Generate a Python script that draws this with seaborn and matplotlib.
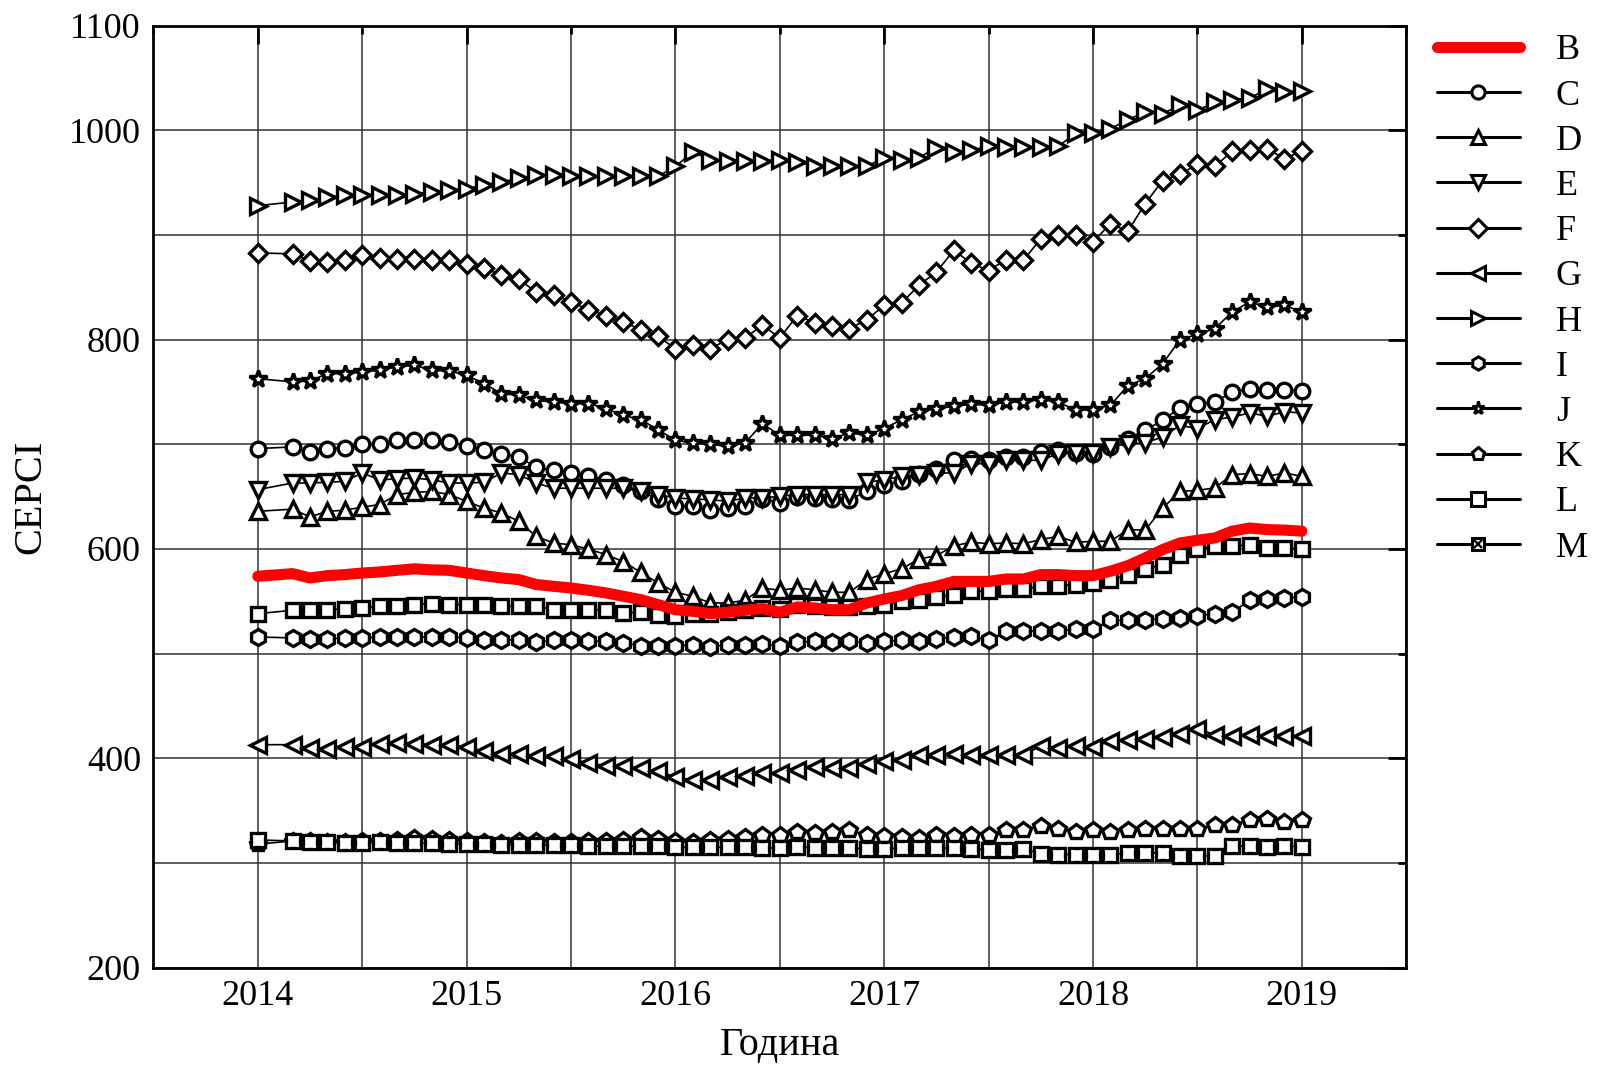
import pandas as pd
import seaborn as sns
import matplotlib.pyplot as plt
from matplotlib.lines import Line2D
from matplotlib.legend_handler import HandlerTuple
from matplotlib.ticker import MultipleLocator

sns.set_style("white")
plt.rcParams['font.family'] = ['Liberation Serif', 'DejaVu Serif']
plt.rcParams['text.color'] = 'black'
plt.rcParams['axes.labelcolor'] = 'black'
plt.rcParams['xtick.color'] = 'black'
plt.rcParams['ytick.color'] = 'black'

# monthly points, Feb 2014 missing
dates = pd.to_datetime(["2014-01-01"]).append(pd.date_range("2014-03-01", "2019-01-01", freq="MS"))
years = (dates.year + (dates.month - 1) / 12).to_numpy()

B = [573.9, 576.4, 572.3, 574.5, 575.5, 577, 578, 579.6, 581, 580, 579.6,
     577, 574.5, 572.3, 570.7, 566, 564.3, 562.7, 560.5, 558, 554.8, 551.6, 546.8,
     542, 540.4, 538.2, 539.5, 541.4, 543, 539.5, 544.6, 543.6, 542, 542, 548.4,
     552.2, 555.4, 561, 564.3, 569, 569, 569, 571.3, 571.3, 575.5, 575.5, 574.5,
     574.5, 578.7, 584, 591.4, 599.4, 605.7, 608.3, 610.5, 617, 620, 618.5, 618,
     617]
C = [695.9, 697.5, 692.7, 695.9, 696.8, 700, 700, 703.8, 703.8, 703.8, 702.2,
     698, 694.3, 691, 688, 678, 675, 673, 670, 666, 661.5, 655, 647.8,
     641.4, 640.8, 637, 639, 641.4, 647.8, 644, 650, 648.7, 647.8, 647, 655,
     661.5, 664.6, 672, 676.6, 684.7, 686, 684.7, 688, 688, 692.7, 694.3, 691.7,
     691, 697.5, 705.4, 713.4, 723, 735, 738.9, 740.4, 750, 753, 751.5, 752,
     751]
D = [636, 638, 630.6, 636, 637, 640, 642.4, 652, 654, 655, 652,
     645.5, 639, 634.4, 626.4, 612, 605.7, 604, 600, 594.6, 588, 577.7, 567.5,
     558.6, 554.8, 548.4, 548.4, 551, 562.7, 560.5, 562.7, 561, 558.6, 558.6, 570.7,
     576.4, 581, 590.4, 593.6, 603, 606.4, 605, 605.7, 605, 609, 612, 606.4,
     607.3, 607.3, 618.5, 618, 639, 655, 656, 658.3, 671, 672, 669.4, 672.6,
     669.4]
E = [656.7, 663, 663, 663.7, 664.6, 672.6, 666, 667, 667.8, 666, 663,
     663, 663.7, 672.6, 671, 663, 658, 658, 658, 658, 658, 655, 652,
     648.7, 647.8, 647, 645.5, 648.7, 648.7, 650.3, 652, 652, 652, 652, 663.7,
     666, 669.4, 671, 672.6, 672.6, 681.5, 681.5, 684.7, 684.7, 684.7, 691, 691.7,
     691.7, 697.5, 700.6, 701.3, 707, 718, 715, 723.6, 726, 730, 726.8, 731,
     730]
F = [882.8, 882, 875, 874, 876, 880.6, 877.6, 877, 877, 876, 876,
     872, 868, 862, 857.6, 845.5, 843, 836, 828.7, 823, 817, 809.6, 803,
     791.4, 794.6, 791.4, 800, 801.6, 813.7, 801.6, 823, 816, 813, 810.5, 819,
     832.8, 835, 852, 864.6, 885.4, 873, 866, 876.4, 875.8, 896.5, 899.7, 899.7,
     893.3, 910.8, 903.5, 930, 952, 958, 967.5, 965.6, 980, 981.5, 982.5, 973,
     980]
G = [413, 413, 409.9, 408.9, 410.8, 410.8, 414, 414.6, 414, 413, 413,
     410.8, 406.7, 404.5, 404.5, 402, 402, 399.4, 395.5, 393, 392.4, 390.8, 387.6,
     382.2, 379, 379, 382.2, 383.4, 386, 386, 389.2, 391.7, 390.8, 390.8, 394.9,
     397.1, 398.7, 403.5, 403.5, 404.5, 403.5, 403.5, 403.5, 403.5, 411.5, 409.9, 411.5,
     410.8, 416.2, 417.2, 418.5, 420.4, 423.6, 428, 422.6, 421.7, 422.6, 421, 421,
     421]
H = [928, 931.5, 933, 936, 938, 938, 938.5, 938.5, 939.5, 941, 942.7,
     944, 948, 950.6, 954, 957, 957, 956, 956, 956, 956, 956, 956,
     965.6, 979, 972, 971, 971, 971, 971.3, 970, 965.6, 965.6, 965.6, 965.6,
     974, 972, 974, 983.4, 979, 981, 984.7, 984, 984, 984, 984.7, 997,
     997, 1001.6, 1010, 1017.5, 1016, 1024, 1019, 1027, 1029, 1031, 1039, 1036.6,
     1037.6]
I = [515.9, 515, 514.3, 514, 515, 515, 515.9, 515.9, 515.9, 515.9, 515.9,
     515, 512.7, 512.7, 513.4, 510.8, 512.7, 512.7, 511.8, 511.8, 510.2, 507.6, 507.6,
     507, 508.6, 506.4, 508.6, 508.6, 509.6, 507, 510.8, 511.8, 510.8, 511.8, 510.2,
     511.8, 512.7, 511.8, 514, 515.9, 516.6, 512.7, 521.3, 521.3, 522, 521.3, 523.6,
     523.6, 531.8, 531.8, 532.5, 533, 534, 536.3, 538.2, 539.5, 551, 552.2, 553.2,
     554]
J = [762.7, 759.6, 760.5, 767.5, 767.5, 769, 770.7, 774, 775.5, 770.7, 770,
     766, 758, 748.4, 746.8, 742, 740.4, 738.9, 738.9, 734, 727.7, 723.6, 714,
     703.8, 701.3, 700, 698, 701.3, 719.7, 708.6, 708.6, 708.6, 705.4, 710.8, 708.6,
     715, 723.6, 731, 734, 736.3, 738.2, 737.3, 740.4, 740.4, 742.7, 740.4, 732.5,
     733, 737.3, 756, 762.7, 777, 800, 805, 810.5, 826.4, 836, 831, 832.8,
     826.4]
K = [318, 321, 321, 320, 320, 321, 321, 322, 324, 323, 322,
     321, 320, 319, 321, 321, 320, 320, 321, 321, 322, 325, 323,
     321, 320, 322, 323, 325, 327, 327, 330, 328.7, 330, 331, 327,
     325.5, 325, 324, 327, 325.5, 327, 327, 331, 331.8, 335, 332.5, 330,
     331, 330, 331.8, 332.5, 332.5, 332.5, 332.5, 336.6, 336.6, 341.4, 342, 338.9,
     340.8]
L = [538.2, 541.4, 542, 542, 542.7, 543.6, 545.2, 545.9, 546.8, 547.8, 546.8,
     546.8, 546.8, 545.2, 545.2, 545.2, 542, 541.4, 541.4, 542, 538.9, 539.5, 537.3,
     535.7, 538.2, 538.2, 539.5, 542, 543.6, 542.7, 546.8, 545.2, 544.6, 544.6, 545.2,
     546.8, 550, 551.6, 554, 556.4, 559.6, 559.6, 561.8, 561.8, 564.3, 565, 566,
     567, 570, 575.5, 581, 585, 594.6, 600, 602.5, 602.5, 604, 601, 601,
     600]
M = [322, 321, 320, 320, 319, 319, 320, 319, 319, 319, 318,
     318, 318, 317, 317, 317, 317, 317, 316, 316, 316, 316, 316,
     315, 315, 315, 315, 315, 314.3, 314.3, 315.3, 314.3, 314.3, 314.3, 313.4,
     313.4, 314.3, 314.3, 314.3, 314.3, 313.4, 312.7, 312.7, 313.4, 308.9, 308, 308,
     308, 308, 309.6, 309.6, 309.6, 307, 306.4, 307, 316.2, 316.2, 315.6, 316.2,
     315.6]

names = ["C", "D", "E", "F", "G", "H", "I", "J", "K", "L", "M"]
series = [C, D, E, F, G, H, I, J, K, L, M]
markers = ["o", "^", "v", "D", "<", ">", "h", "*", "p", "s", "s"]
sizes = [10.5, 11.5, 11.5, 9.5, 11.5, 11.5, 11.5, 13, 11.5, 10, 10]

fig, ax = plt.subplots(figsize=(15.98, 10.68), dpi=100)
fig.subplots_adjust(left=0.096, right=0.880, top=0.976, bottom=0.094)

for name, vals, mk, ms in zip(names, series, markers, sizes):
    sns.lineplot(x=years, y=vals, ax=ax, color="black", lw=1.2, marker=mk,
                 markersize=ms, markerfacecolor="white", markeredgecolor="black",
                 markeredgewidth=2.4, zorder=3)
# cross inside the M squares
sns.lineplot(x=years, y=M, ax=ax, color="black", lw=0, marker="x",
             markersize=6.5, markeredgewidth=1.8, zorder=4)
sns.lineplot(x=years, y=B, ax=ax, color="red", lw=8, zorder=5)

ax.set_xlim(2013.5, 2019.5)
ax.set_ylim(200, 1100)
ax.set_xticks([2014, 2015, 2016, 2017, 2018, 2019])
ax.xaxis.set_minor_locator(MultipleLocator(0.5))
ax.set_yticks([200, 400, 600, 800, 1000, 1100])
ax.yaxis.set_minor_locator(MultipleLocator(100))
ax.grid(which="both", color="#333333", lw=1.1)
ax.set_axisbelow(True)
ax.tick_params(which="major", direction="in", length=13, width=2, top=True, right=True,
               labelsize=26, pad=9)
ax.tick_params(which="minor", direction="in", length=6, width=2, top=True, right=True)
for sp in ax.spines.values():
    sp.set_linewidth(2)
    sp.set_color("black")
ax.set_xlabel("Година", fontsize=29, labelpad=10)
ax.set_ylabel("CEPCI", fontsize=29, labelpad=14)

handles = [Line2D([], [], color="red", lw=8)]
for mk in markers[:-1]:
    handles.append(Line2D([], [], color="black", lw=2.2, marker=mk, markersize=9.5,
                          markerfacecolor="white", markeredgecolor="black",
                          markeredgewidth=2.2))
handles.append((Line2D([], [], color="black", lw=2.2, marker="s", markersize=9,
                       markerfacecolor="white", markeredgecolor="black", markeredgewidth=2.2),
                Line2D([], [], color="black", lw=0, marker="x", markersize=5.5,
                       markeredgewidth=1.7)))
fig.legend(handles, ["B"] + names, loc="upper left", bbox_to_anchor=(0.899, 0.968),
           frameon=False, borderpad=0, borderaxespad=0, handlelength=2.3,
           handletextpad=1.0, labelspacing=0.33, fontsize=26,
           handler_map={tuple: HandlerTuple(ndivide=1)})

plt.savefig("out.png", dpi=100)
